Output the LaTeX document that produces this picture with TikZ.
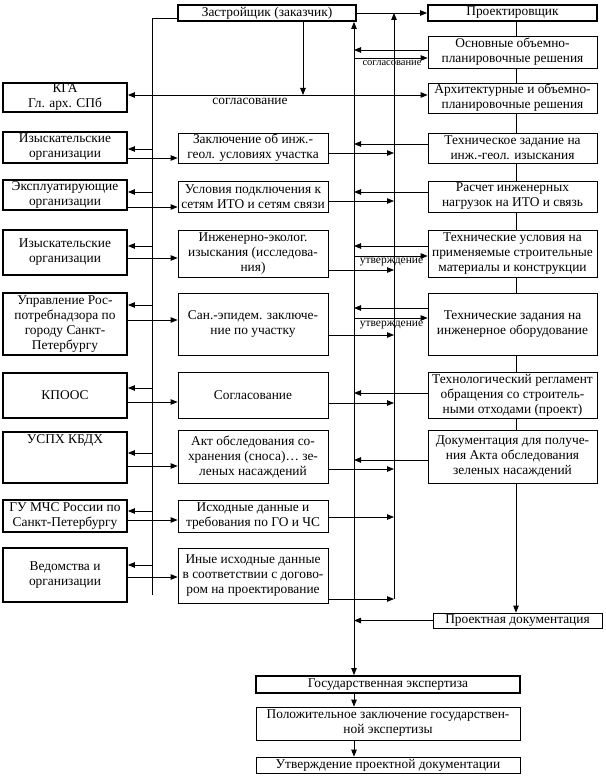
\documentclass[tikz,border=0pt]{standalone}
\usepackage{fontspec}
\setmainfont{Liberation Serif}
\usetikzlibrary{arrows.meta}
\begin{document}
\begin{tikzpicture}[x=1pt,y=-1pt,
  box/.style={draw, line width=0.8pt, align=center, inner sep=0pt, font=\fontsize{13.4}{15}\selectfont},
  tbox/.style={box, line width=1.8pt},
  lbox/.style={tbox, minimum width=124pt},
  mbox/.style={box, minimum width=150pt},
  rbox/.style={box, minimum width=169pt},
  arr/.style={-{Triangle[length=7pt,width=5.5pt]}, line width=0.8pt},
  darr/.style={{Triangle[length=7pt,width=5.5pt]}-{Triangle[length=7pt,width=5.5pt]}, line width=0.8pt},
  ln/.style={line width=0.8pt},
  lab/.style={inner sep=0pt, font=\fontsize{13.4}{15}\selectfont},
  slab/.style={inner sep=0pt, font=\fontsize{10.5}{12}\selectfont},
  ulab/.style={inner sep=0pt, font=\fontsize{11.5}{12}\selectfont}
]
\useasboundingbox (0,0) rectangle (605,778);

% top row
\node[tbox, minimum width=178pt, minimum height=16pt] (zas) at (267,13) {Застройщик (заказчик)};
\node[tbox, minimum width=169pt, minimum height=16pt] (proekt) at (512.5,13) {Проектировщик};

% left column
\node[lbox, minimum height=29pt] (kga) at (65,97.5) {КГА\\Гл. арх. СПб};
\node[lbox, minimum height=31pt] (iz1) at (65,147.5) {Изыскательские\\организации};
\node[lbox, minimum height=30pt] (ex) at (65,195) {Эксплуатирующие\\организации};
\node[lbox, minimum height=45pt] (iz2) at (65,252.5) {Изыскательские\\организации};
\node[lbox, minimum height=62pt] (upr) at (65,324) {Управление Рос-\\потребнадзора по\\городу Санкт-\\Петербургу};
\node[lbox, minimum height=45pt] (kpoos) at (65,395.5) {КПООС};
\node[lbox, minimum height=51pt, label={[lab, anchor=north, yshift=-3pt]north:УСПХ КБДХ}] (uspx) at (65,457.5) {};
\node[lbox, minimum height=32pt] (mchs) at (65,516) {ГУ МЧС России по\\Санкт-Петербургу};
\node[lbox, minimum height=54pt] (ved) at (65,575) {Ведомства и\\организации};

% middle column
\node[mbox, minimum height=30pt] (m1) at (253,148) {Заключение об инж.-\\геол. условиях участка};
\node[mbox, minimum height=31pt] (m2) at (253,196.5) {Условия подключения к\\сетям ИТО и сетям связи};
\node[mbox, minimum height=47pt] (m3) at (253,253.5) {Инженерно-эколог.\\изыскания (исследова-\\ния)};
\node[mbox, minimum height=62pt] (m4) at (253,324) {Сан.-эпидем. заключе-\\ние по участку};
\node[mbox, minimum height=46pt] (m5) at (253,395) {Согласование};
\node[mbox, minimum height=53pt] (m6) at (253,456.5) {Акт обследования со-\\хранения (сноса)… зе-\\леных насаждений};
\node[mbox, minimum height=32pt] (m7) at (253,516) {Исходные данные и\\требования по ГО и ЧС};
\node[mbox, minimum height=55pt] (m8) at (253,575.5) {Иные исходные данные\\в соответствии с догово-\\ром на проектирование};

% right column
\node[rbox, minimum height=32pt] (r0) at (512.5,52) {Основные объемно-\\планировочные решения};
\node[rbox, minimum height=30pt] (r1) at (512.5,98) {Архитектурные и объемно-\\планировочные решения};
\node[rbox, minimum height=30pt] (r2) at (512.5,148) {Техническое задание на\\инж.-геол. изыскания};
\node[rbox, minimum height=31pt] (r3) at (512.5,196.5) {Расчет инженерных\\нагрузок на ИТО и связь};
\node[rbox, minimum height=47pt] (r4) at (512.5,253.5) {Технические условия на\\применяемые строительные\\материалы и конструкции};
\node[rbox, minimum height=62pt] (r5) at (512.5,324) {Технические задания на\\инженерное оборудование};
\node[rbox, minimum height=46pt] (r6) at (512.5,395) {Технологический регламент\\обращения со строитель-\\ными отходами (проект)};
\node[rbox, minimum height=53pt] (r7) at (512.5,456.5) {Документация для получе-\\ния Акта обследования\\зеленых насаждений};
\node[rbox, minimum height=15pt] (pd) at (517.5,620.5) {Проектная документация};

% bottom
\node[tbox, minimum width=264pt, minimum height=17pt] (ge) at (388,684.5) {Государственная экспертиза};
\node[box, minimum width=264pt, minimum height=33pt] (pz) at (388,723.5) {Положительное заключение государствен-\\ной экспертизы};
\node[box, minimum width=264pt, minimum height=16pt] (ut) at (388,765) {Утверждение проектной документации};

% helper coordinates
\coordinate (busL) at (152,0);
\coordinate (busM) at (354,0);
\coordinate (busR) at (394,0);
\coordinate (busLend) at (152,595);
\coordinate (busRend) at (394,599);
\coordinate (sj) at (303,95);
\coordinate (rc) at (516,0);

% top connectors
\draw[arr] (zas.east) -- (proekt.west);
\draw[ln] (zas.west |- 0,18) -| (busLend);
\draw[darr] (busM |- zas.south) -- (busM |- ge.north);
\draw[arr] (busRend) -- (busR |- zas.east);
\draw[arr] (zas.south -| sj) -- (sj);
\draw[arr] (sj) -- (kga.east |- sj);
\draw[arr] (sj) -- (r1.west |- sj);
\node[lab] (sogl1) at (250,101.5) {согласование};

\draw[arr] (r0.west |- 0,50) -- (busM |- 0,50);
\draw[arr] (busM |- 0,58) -- (r0.west |- 0,58);
\node[slab] (sogl2) at (392,63) {согласование};

% row 1
\draw[arr] (busL |- 0,149) -- (iz1.east |- 0,149);
\draw[arr] (iz1.east |- 0,158) -- (m1.west |- 0,158);
\draw[arr] (m1.east |- 0,153) -- (busR |- 0,153);
\draw[arr] (r2.west |- 0,144) -- (busM |- 0,144);
% row 2
\draw[arr] (busL |- 0,192) -- (ex.east |- 0,192);
\draw[arr] (ex.east |- 0,207) -- (m2.west |- 0,207);
\draw[arr] (m2.east |- 0,201) -- (busR |- 0,201);
\draw[arr] (r3.west |- 0,192) -- (busM |- 0,192);
% row 3
\draw[arr] (busL |- 0,246) -- (iz2.east |- 0,246);
\draw[arr] (iz2.east |- 0,258) -- (m3.west |- 0,258);
\draw[arr] (m3.east |- 0,270) -- (busR |- 0,270);
\draw[arr] (r4.west |- 0,246) -- (busM |- 0,246);
\draw[arr] (busM |- 0,256) -- (r4.west |- 0,256);
\node[ulab] (utv1) at (391.5,262.5) {утверждение};
% row 4
\draw[arr] (busL |- 0,305) -- (upr.east |- 0,305);
\draw[arr] (upr.east |- 0,320) -- (m4.west |- 0,320);
\draw[arr] (m4.east |- 0,335) -- (busR |- 0,335);
\draw[arr] (r5.west |- 0,308) -- (busM |- 0,308);
\draw[arr] (busM |- 0,318) -- (r5.west |- 0,318);
\node[ulab] (utv2) at (391.5,325) {утверждение};
% row 5
\draw[arr] (busL |- 0,388) -- (kpoos.east |- 0,388);
\draw[arr] (kpoos.east |- 0,402) -- (m5.west |- 0,402);
\draw[arr] (m5.east |- 0,403) -- (busR |- 0,403);
\draw[arr] (r6.west |- 0,393) -- (busM |- 0,393);
% row 6
\draw[arr] (busL |- 0,453) -- (uspx.east |- 0,453);
\draw[arr] (uspx.east |- 0,466) -- (m6.west |- 0,466);
\draw[arr] (m6.east |- 0,469) -- (busR |- 0,469);
\draw[arr] (r7.west |- 0,460) -- (busM |- 0,460);
% row 7
\draw[arr] (busL |- 0,511) -- (mchs.east |- 0,511);
\draw[arr] (mchs.east |- 0,520) -- (m7.west |- 0,520);
\draw[arr] (m7.east |- 0,517) -- (busR |- 0,517);
% row 8
\draw[arr] (busL |- 0,565) -- (ved.east |- 0,565);
\draw[arr] (ved.east |- 0,577) -- (m8.west |- 0,577);
\draw[arr] (m8.east |- 0,599) -- (busRend);

% right column chain
\draw[ln] (proekt.south -| rc) -- (r0.north -| rc);
\draw[ln] (r0.south -| rc) -- (r1.north -| rc);
\draw[ln] (r1.south -| rc) -- (r2.north -| rc);
\draw[ln] (r2.south -| rc) -- (r3.north -| rc);
\draw[ln] (r3.south -| rc) -- (r4.north -| rc);
\draw[ln] (r4.south -| rc) -- (r5.north -| rc);
\draw[ln] (r5.south -| rc) -- (r6.north -| rc);
\draw[ln] (r6.south -| rc) -- (r7.north -| rc);
\draw[arr] (r7.south -| rc) -- (pd.north -| rc);
\draw[arr] (pd.west) -- (busM |- pd.west);

% bottom chain
\draw[arr] (ge.south -| busM) -- (pz.north -| busM);
\draw[arr] (pz.south -| busM) -- (ut.north -| busM);
\end{tikzpicture}
\end{document}
